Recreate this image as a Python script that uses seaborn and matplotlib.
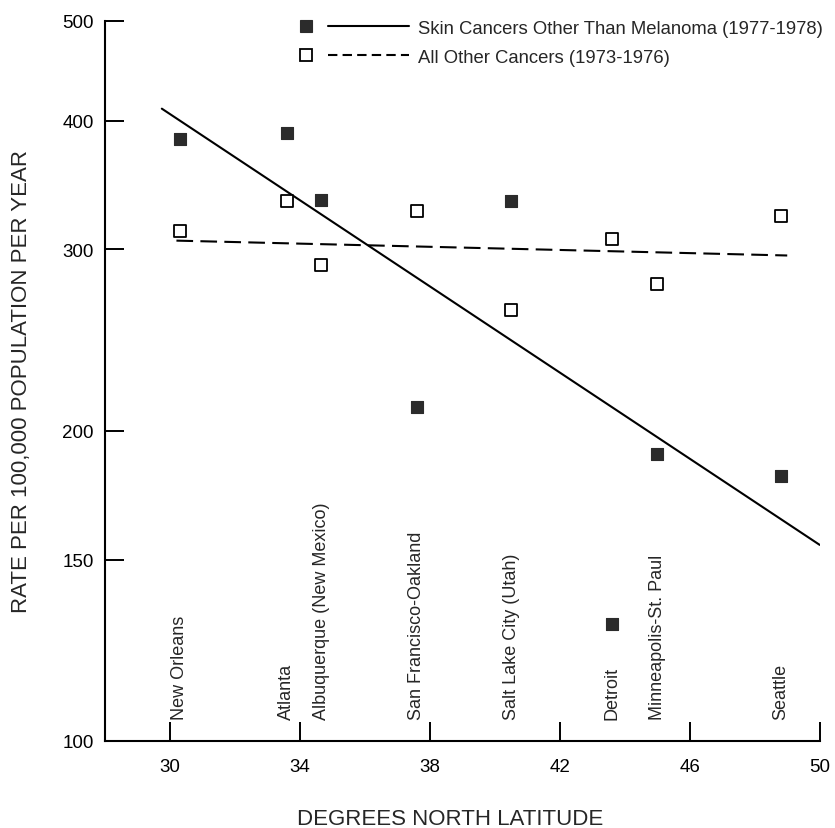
import numpy as np
import pandas as pd
import matplotlib
matplotlib.use('Agg')
import matplotlib.pyplot as plt
import matplotlib.ticker as mticker
from matplotlib.lines import Line2D
from matplotlib.legend_handler import HandlerBase
import seaborn as sns

# Daten
cities = ['New Orleans', 'Atlanta', 'Albuquerque (New Mexico)', 'San Francisco-Oakland',
          'Salt Lake City (Utah)', 'Detroit', 'Minneapolis-St. Paul', 'Seattle']
latitude = [30.3, 33.6, 34.65, 37.6, 40.5, 43.6, 45.0, 48.8]
skin_rate = [384, 389, 335, 211, 334, 130, 190, 181]
other_rate = [313, 334, 290, 327, 262, 307, 278, 323]

skin_line_lat = [29.75, 50.0]
skin_line_rate = [411, 155]
other_line_lat = [30.2, 49.0]
other_line_rate = [306, 296]

y_ticks = [100, 150, 200, 300, 400, 500]
x_ticks = [30, 34, 38, 42, 46, 50]

df = pd.DataFrame({'city': cities, 'lat': latitude, 'skin': skin_rate, 'other': other_rate})
df_skin_line = pd.DataFrame({'lat': skin_line_lat, 'rate': skin_line_rate})
df_other_line = pd.DataFrame({'lat': other_line_lat, 'rate': other_line_rate})

sns.set_theme(style='ticks')
plt.rcParams['font.family'] = ['Liberation Sans', 'DejaVu Sans']

fig = plt.figure(figsize=(8.35, 8.29), dpi=100)
ax = fig.add_axes([0.1257, 0.105, 0.856, 0.8685])

dark = '#2b2b2b'
dash_style = (0, (8, 3.5))
sns.lineplot(data=df_skin_line, x='lat', y='rate', ax=ax, color='black', lw=1.5)
sns.lineplot(data=df_other_line, x='lat', y='rate', ax=ax, color='black', lw=1.5,
             linestyle=dash_style)
sns.scatterplot(data=df, x='lat', y='skin', ax=ax, marker='s', s=68, color=dark,
                edgecolor=dark, linewidth=0.8, zorder=3)
sns.scatterplot(data=df, x='lat', y='other', ax=ax, marker='s', s=68, color='white',
                edgecolor='black', linewidth=1.3, zorder=3)

ax.set_yscale('log')
ax.set_ylim(100, 500)
ax.set_xlim(28, 50)
ax.yaxis.set_major_locator(mticker.FixedLocator(y_ticks))
ax.yaxis.set_major_formatter(mticker.FixedFormatter([str(t) for t in y_ticks]))
ax.yaxis.set_minor_locator(mticker.NullLocator())
ax.set_xticks(x_ticks)

ax.tick_params(axis='both', which='major', direction='in', length=14, width=1.4,
               colors='black', labelsize=13.5, bottom=True, left=True)
ax.tick_params(axis='x', pad=12)
ax.tick_params(axis='y', pad=8)

for side in ['top', 'right']:
    ax.spines[side].set_visible(False)
for side in ['left', 'bottom']:
    ax.spines[side].set_color('black')
    ax.spines[side].set_linewidth(1.5)

# Städtenamen senkrecht
for lat, name in zip(latitude, cities):
    ax.text(lat, 105, name, rotation=90, ha='center', va='bottom', fontsize=13)

ax.set_xlabel('DEGREES NORTH LATITUDE', fontsize=16)
ax.xaxis.set_label_coords(0.483, -0.093)
ax.set_ylabel('RATE PER 100,000 POPULATION PER YEAR', fontsize=16, labelpad=22)


class MarkerLineHandler(HandlerBase):
    def create_artists(self, legend, orig_handle, xdescent, ydescent, width, height,
                       fontsize, trans):
        mk, style = orig_handle
        x0 = -xdescent
        y = height / 2 - ydescent
        m = Line2D([x0 + 0.05 * width], [y], marker='s', markersize=mk.get_markersize(),
                   markerfacecolor=mk.get_markerfacecolor(),
                   markeredgecolor=mk.get_markeredgecolor(),
                   markeredgewidth=mk.get_markeredgewidth(), linestyle='none')
        l = Line2D([x0 + 0.25 * width, x0 + width], [y, y], color='black', lw=1.5,
                   linestyle=style)
        m.set_transform(trans)
        l.set_transform(trans)
        return [m, l]


h1 = (Line2D([], [], marker='s', markersize=8, markerfacecolor=dark, markeredgecolor=dark,
             markeredgewidth=0.8, linestyle='none'), '-')
h2 = (Line2D([], [], marker='s', markersize=8, markerfacecolor='white', markeredgecolor='black',
             markeredgewidth=1.3, linestyle='none'), (0, (4.5, 2.5)))

leg = ax.legend([h1, h2], ['Skin Cancers Other Than Melanoma (1977-1978)',
                           'All Other Cancers (1973-1976)'],
                handler_map={tuple: MarkerLineHandler()}, frameon=False, fontsize=13.3,
                handlelength=5.9, handletextpad=0.45, labelspacing=0.65,
                loc='upper left', bbox_to_anchor=(0.25, 1.025))

fig.savefig('out.png', dpi=100)
